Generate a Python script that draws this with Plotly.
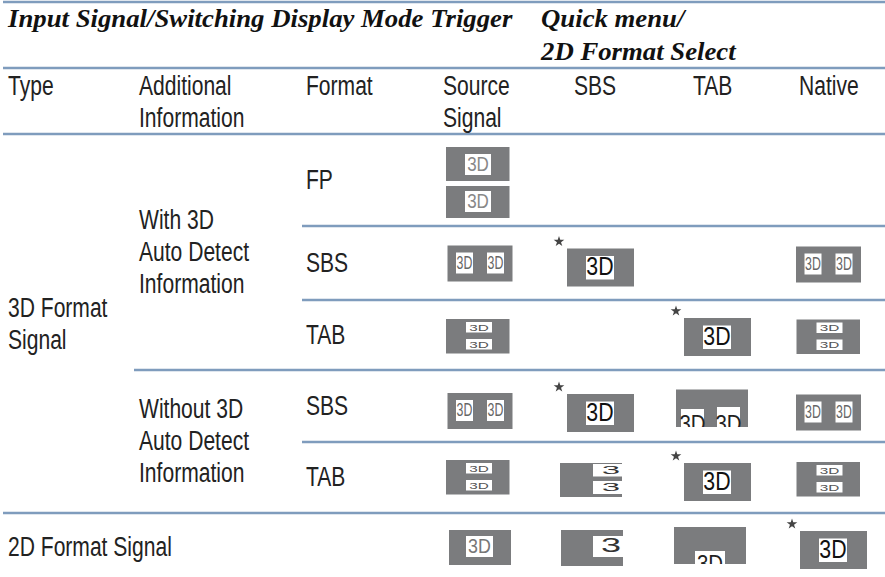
import plotly.graph_objects as go

# ---------- content ----------
title_left = "Input Signal/Switching Display Mode Trigger"
title_right = ["Quick menu/", "2D Format Select"]
headers = [["Type"], ["Additional", "Information"], ["Format"], ["Source", "Signal"], ["SBS"], ["TAB"], ["Native"]]
type_labels = [["3D Format", "Signal"], ["2D Format Signal"]]
info_labels = [["With 3D", "Auto Detect", "Information"], ["Without 3D", "Auto Detect", "Information"]]
format_labels = ["FP", "SBS", "TAB", "SBS", "TAB"]
thumb_text = "3D"
stretched_text = "3"

# ---------- layout constants (page pixels) ----------
BODY = "Liberation Sans"
SERIF = "Liberation Serif"
INK = "#222222"
RULE = "#7f9cbd"
GREY = "#7b7c7e"
LH = 32
BODY_SQUEEZE = 0.78
BODY_SIZE = 27
TITLE_STRETCH = 1.07

rules = [(3, 2), (3, 68), (3, 134), (302, 226), (302, 300), (134, 370), (302, 442), (3, 513)]
header_x = [8, 139, 306, 443, 574, 693, 799]
type_pos = [(8, 310), (8, 549)]
info_pos = [(139, 222), (139, 411)]
format_pos = [(306, 182), (306, 265), (306, 337), (306, 408), (306, 479)]
HEADER_Y = 88


def big(x, y):
    return dict(box=(x, x + 67, y, y + 38), whites=[(x + 19, x + 47, y + 7.5, y + 31)], size=26, star=(x - 8, y - 7), color="#111", factor=0.82)


def sbs(x, y):
    return dict(box=(x, x + 65, y, y + 36), whites=[(x + 8.5, x + 25.5, y + 7, y + 28), (x + 39.5, x + 56.5, y + 7, y + 28)], size=19, color="#666", factor=0.65)


def tab(x, y):
    return dict(box=(x, x + 63.5, y, y + 34.5), whites=[(x + 20, x + 46, y + 3, y + 13.5), (x + 20, x + 46, y + 20, y + 30.5)], size=9, color="#555", factor=1.7)


thumbs = [
    dict(box=(446, 509.5, 147, 181), whites=[(465, 491, 154, 175)], size=20, color="#888", factor=0.85),
    dict(box=(446, 509.5, 186, 218), whites=[(465, 491, 191, 212)], size=20, color="#888", factor=0.85),
    sbs(447.5, 245.5), big(567, 248.5), sbs(796, 246.5),
    tab(446, 319), big(684, 318), tab(796.5, 319.5),
    sbs(447.5, 393), big(567, 394), sbs(796, 394.5),
    tab(446, 460), big(684, 463), tab(796.5, 462),
    dict(box=(449, 511, 530, 565), whites=[(466, 493, 536, 557)], size=21, color="#777", factor=0.85),
    big(800, 531),
]
cropped = [
    dict(box=(676, 748, 389.5, 427), whites=[(681, 704, 409, 427), (717, 740, 407, 427)], ty=426),
    dict(box=(674, 746, 527, 564), whites=[(695, 725, 551, 564)], ty=566),
]
stretched = [
    dict(box=(560, 622, 463, 497), whites=[(593, 622, 464, 476.5), (593, 622, 481, 494)], ty=[471.5, 488.5], size=11, factor=3.0),
    dict(box=(561, 623, 530, 566), whites=[(593, 623, 536, 557)], ty=[547, ], size=20, factor=1.8),
]

shapes = []
fig = go.Figure()


def add_text(x, y, text, family=BODY, size=BODY_SIZE, color=INK, factor=BODY_SQUEEZE, pos="middle right", **font):
    fig.add_trace(go.Scatter(x=[x], y=[y], mode="text", text=[text], textposition=pos, meta=factor,
                             textfont=dict(family=family, size=size, color=color, **font), hoverinfo="skip"))


def rect(b, color, layer="below"):
    shapes.append(dict(type="rect", x0=b[0], x1=b[1], y0=b[2], y1=b[3], fillcolor=color, line=dict(width=0), layer=layer))


for x0, y in rules:
    shapes.append(dict(type="line", x0=x0, x1=885, y0=y, y1=y, line=dict(color=RULE, width=2.5), layer="below"))


def label(x, y, lines):
    for i, t in enumerate(lines):
        add_text(x, y + i * LH, t)


title_font = dict(family=SERIF, size=25, color="#111", factor=TITLE_STRETCH, weight="bold", style="italic")
add_text(8, 21, title_left, **title_font)
for i, t in enumerate(title_right):
    add_text(541, 21 + i * 33, t, **title_font)
for x, lines in zip(header_x, headers):
    label(x, HEADER_Y, lines)
for (x, y), lines in zip(type_pos, type_labels):
    label(x, y, lines)
for (x, y), lines in zip(info_pos, info_labels):
    label(x, y, lines)
for (x, y), t in zip(format_pos, format_labels):
    label(x, y, [t])

stars_x, stars_y = [], []
for th in thumbs:
    rect(th["box"], GREY)
    for w in th["whites"]:
        rect(w, "#ffffff")
        add_text((w[0] + w[1]) / 2, (w[2] + w[3]) / 2 + 1, thumb_text, size=th["size"], color=th["color"],
                 factor=th["factor"], pos="middle center")
    if "star" in th:
        stars_x.append(th["star"][0])
        stars_y.append(th["star"][1])

for th in cropped:
    rect(th["box"], GREY)
    for w in th["whites"]:
        rect(w, "#ffffff")
        add_text((w[0] + w[1]) / 2, th["ty"], thumb_text, size=24, color="#222", factor=0.85, pos="middle center")
    rect((th["box"][0] - 1, th["box"][1] + 1, th["box"][3], th["box"][3] + 12), "#ffffff", "above")

for th in stretched:
    rect(th["box"], GREY)
    for w, ty in zip(th["whites"], th["ty"]):
        rect(w, "#ffffff")
        add_text(611, ty, stretched_text, size=th["size"], color="#333", factor=th["factor"], pos="middle center")

fig.add_trace(go.Scatter(x=stars_x, y=stars_y, mode="markers", marker=dict(symbol="star", size=8, color="#444"), hoverinfo="skip"))

fig.update_layout(
    width=885, height=577, margin=dict(l=0, r=0, t=0, b=0), showlegend=False,
    paper_bgcolor="white", plot_bgcolor="white",
    xaxis=dict(range=[0, 885], visible=False, fixedrange=True),
    yaxis=dict(range=[577, 0], visible=False, fixedrange=True),
    shapes=shapes,
)

# Horizontal glyph scaling (condensed / stretched type) via SVG textLength, per-trace factor in meta.
post = """
document.body.style.margin='0';
var gd=document.getElementById('{plot_id}');
gd.querySelectorAll('.scatterlayer .trace').forEach(function(t,i){
  var f=gd.data[i].meta; if(!f) return;
  t.querySelectorAll('text').forEach(function(e){
    e.setAttribute('textLength', e.getComputedTextLength()*f);
    e.setAttribute('lengthAdjust','spacingAndGlyphs');
  });
});
"""
fig.write_html("out.html", post_script=post, config=dict(displayModeBar=False))
